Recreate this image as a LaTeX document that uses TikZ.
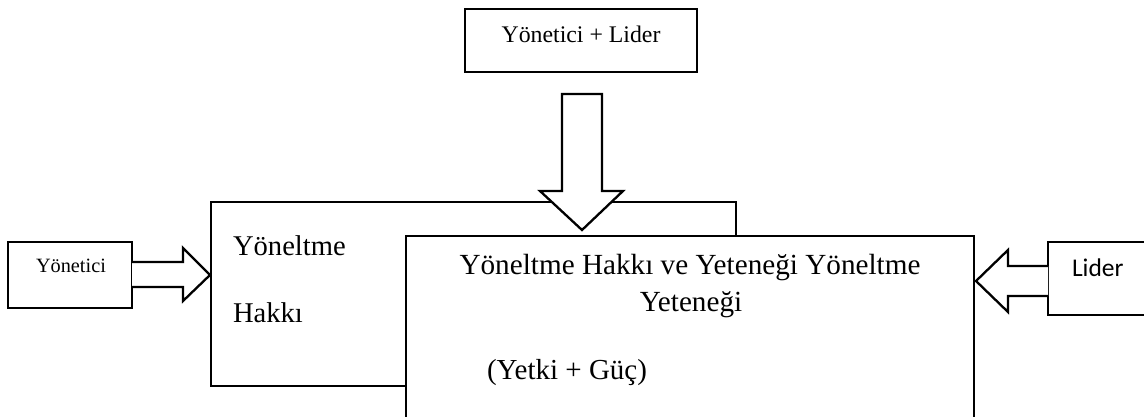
\documentclass[tikz,border=0pt]{standalone}
\usepackage{fontspec}
\setmainfont{Liberation Serif}
\newfontfamily\calfont{Carlito}
\begin{document}
\begin{tikzpicture}[x=1pt,y=-1pt,
  line/.style={draw=black,line width=2.3pt,line join=miter},
  blockarrow/.style={line,fill=white},
  txt/.style={inner sep=0pt,outer sep=0pt,text=black}]
\useasboundingbox (0,0) rectangle (1144,417);
% boxes
\draw[line] (465,9) rectangle (697,72);
\draw[line] (8,242) rectangle (132,308);
\draw[line] (1160,242) -- (1048,242) -- (1048,315) -- (1160,315);
\draw[line] (211,202) rectangle (736,386);
\fill[white] (406,236) rectangle (974,430);
\draw[line] (406,430) -- (406,236) -- (974,236) -- (974,430);
% texts
\node[txt,anchor=base] (top) at (581,43) {\fontsize{23.8}{28}\selectfont Yönetici + Lider};
\node[txt,anchor=base west] (yon) at (36,272) {\fontsize{20.3}{24}\selectfont Yönetici};
\node[txt,anchor=base west] (lid) at (1072,276) {\calfont\fontsize{25.5}{30}\selectfont Lider};
\node[txt,anchor=base west] (yh1) at (233,255) {\fontsize{28.6}{34}\selectfont Yöneltme};
\node[txt,anchor=base west] (yh2) at (233,322) {\fontsize{28.6}{34}\selectfont Hakkı};
\node[txt,anchor=base] (m1) at (690,274) {\fontsize{29.2}{34}\selectfont Yöneltme Hakkı ve Yeteneği Yöneltme};
\node[txt,anchor=base] (m2) at (691,311) {\fontsize{29.2}{34}\selectfont Yeteneği};
\node[txt,anchor=base west] (m3) at (487,379) {\fontsize{29}{34}\selectfont (Yetki + Güç)};
% block arrows
\draw[blockarrow] (562,94) -- (602,94) -- (602,191) -- (623,191) -- (582,230) -- (540,191) -- (562,191) -- cycle;
\draw[blockarrow] (132,262) -- (183,262) -- (183,248) -- (210,275) -- (183,301) -- (183,287) -- (132,287);
\draw[blockarrow] (1048,266) -- (1008,266) -- (1008,250) -- (976,281) -- (1008,312) -- (1008,296) -- (1048,296);
\end{tikzpicture}
\end{document}
